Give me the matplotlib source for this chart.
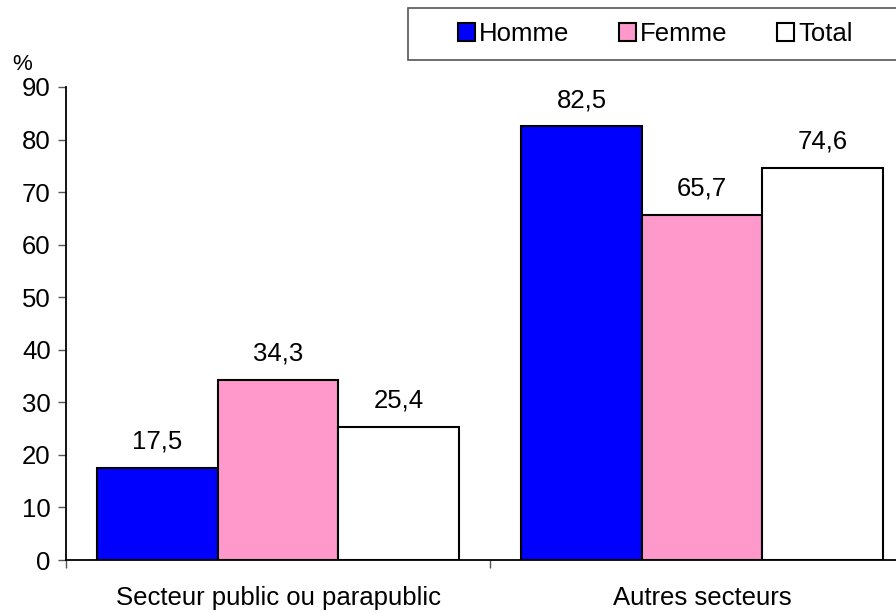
import numpy as np
import matplotlib
matplotlib.use("Agg")
from matplotlib import pyplot as plt
from matplotlib.patches import Rectangle

categories = ["Secteur public ou parapublic", "Autres secteurs"]
series = ["Homme", "Femme", "Total"]
homme = [17.5, 82.5]
femme = [34.3, 65.7]
total = [25.4, 74.6]
colors = ["#0000FF", "#FF99CC", "#FFFFFF"]

plt.rcParams['font.family'] = ['Liberation Sans', 'DejaVu Sans']

fig = plt.figure(figsize=(8.96, 6.13), dpi=100)
ax = fig.add_axes([66/896, 1-560/613, (914-66)/896, (560-87)/613])

x = np.arange(len(categories))
w = 0.284
values = [homme, femme, total]
for i, (name, vals, col) in enumerate(zip(series, values, colors)):
    pos = x + (i - 1) * w
    ax.bar(pos, vals, w, color=col, edgecolor="black", linewidth=1.5, label=name)
    for p, v in zip(pos, vals):
        ax.annotate(f"{v:.1f}".replace(".", ","), (p, v), xytext=(0, 19),
                    textcoords="offset points", ha="center", va="center", fontsize=18.5)

ax.set_xlim(-0.5, 1.5)
ax.set_ylim(0, 90)
ax.set_yticks(np.arange(0, 91, 10))
ax.tick_params(axis="y", labelsize=18.5, length=6, width=1, color="#555555", pad=5)
ax.set_xticks(x)
ax.set_xticklabels(categories, fontsize=18.5)
ax.set_xticks([-0.5, 0.5], minor=True)
ax.tick_params(axis="x", which="major", length=0, pad=19)
ax.tick_params(axis="x", which="minor", length=6, width=1, color="#555555")
for s in ["top", "right"]:
    ax.spines[s].set_visible(False)
for s in ["left", "bottom"]:
    ax.spines[s].set_linewidth(1.3)

fig.text(22/896, 1-65/613, "%", fontsize=16, ha="center", va="center")

# legend box
fig.patches.append(Rectangle((408/896, 1-60/613), 0.6, 52/613, transform=fig.transFigure,
                             facecolor="white", edgecolor="#555555", linewidth=1.2))
leg = fig.legend(loc="center left", bbox_to_anchor=(448/896, 1-34/613), ncol=3,
                 frameon=False, fontsize=18.5, handlelength=0.65, handleheight=0.65,
                 handletextpad=0.15, columnspacing=1.95, borderaxespad=0)

fig.savefig("out.png", dpi=100)
